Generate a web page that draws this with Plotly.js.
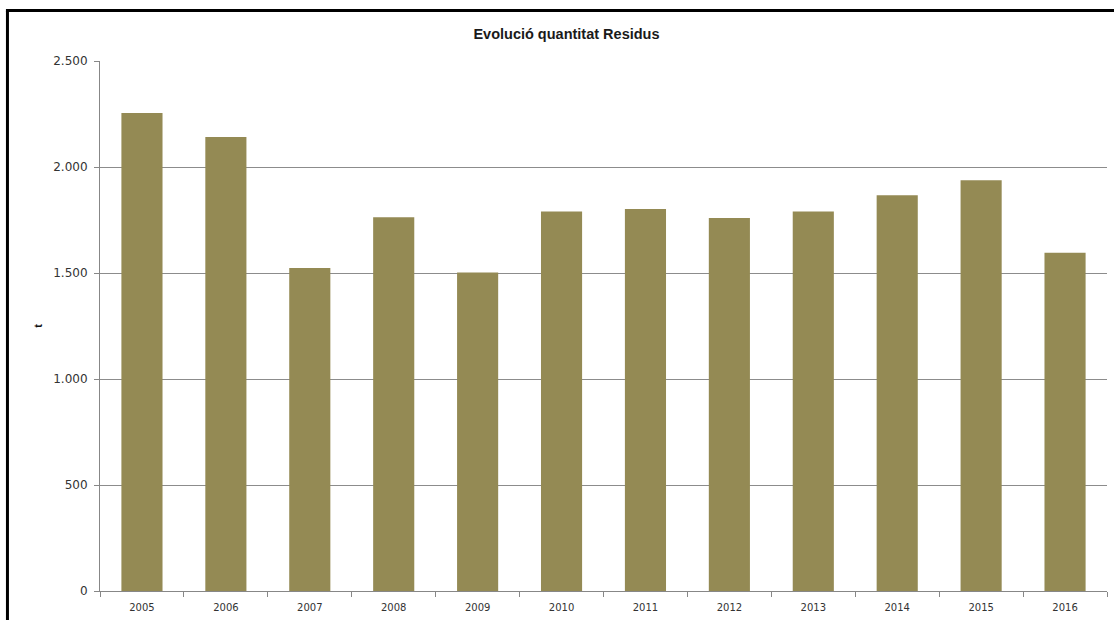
<!DOCTYPE html>
<html>
<head>
<meta charset="utf-8">
<script src="https://cdn.plot.ly/plotly-3.0.1.min.js"></script>
<style>html,body{margin:0;padding:0;background:#fff;}#chart{width:1114px;height:620px;}</style>
</head>
<body>
<div id="chart"></div>
<script>
const years = ["2005","2006","2007","2008","2009","2010","2011","2012","2013","2014","2015","2016"];
const tonnes = [2255, 2142, 1524, 1763, 1502, 1790, 1802, 1759, 1790, 1867, 1938, 1595];
const yTicks = [0, 500, 1000, 1500, 2000, 2500];

const trace = {
  type: "bar",
  x: years,
  y: tonnes,
  marker: {color: "#948A54"},
  hoverinfo: "x+y"
};

const axisGray = "#878787";
const layout = {
  width: 1114,
  height: 620,
  margin: {l: 100, r: 7, t: 61, b: 29},
  paper_bgcolor: "#ffffff",
  plot_bgcolor: "#ffffff",
  separators: ",.",
  bargap: 0.51,
  showlegend: false,
  title: {
    text: "<b>Evolució quantitat Residus</b>",
    font: {family: "Liberation Sans, Arial, sans-serif", size: 14.5, color: "#1a1a1a"},
    x: 0.5085, xref: "container", xanchor: "center",
    y: 1 - 34/620, yref: "container", yanchor: "middle"
  },
  xaxis: {
    type: "category",
    showgrid: false,
    showline: true,
    linecolor: axisGray,
    linewidth: 1,
    ticks: "outside",
    tickson: "boundaries",
    ticklen: 5,
    tickcolor: axisGray,
    ticklabelstandoff: 7,
    tickfont: {family: "DejaVu Sans, sans-serif", size: 10, color: "#333"},
    fixedrange: true
  },
  yaxis: {
    range: [0, 2500],
    tickvals: yTicks,
    tickformat: ",d",
    showgrid: true,
    gridcolor: "#8c8c8c",
    gridwidth: 1,
    showline: true,
    linecolor: axisGray,
    linewidth: 1,
    ticks: "outside",
    ticklen: 5,
    tickcolor: axisGray,
    ticklabelstandoff: 4,
    zeroline: false,
    tickfont: {family: "DejaVu Sans, sans-serif", size: 12, color: "#333"},
    title: {text: "<b>t</b>", font: {family: "Liberation Sans, Arial, sans-serif", size: 11, color: "#111"}, standoff: 8},
    fixedrange: true
  },
  shapes: [
    {type: "line", xref: "paper", yref: "paper", x0: -0.0919, x1: -0.0919, y0: -0.2, y1: 1.0953, line: {color: "#000", width: 3}},
    {type: "line", xref: "paper", yref: "paper", x0: -0.0934, x1: 1.1, y0: 1.0953, y1: 1.0953, line: {color: "#000", width: 3}}
  ]
};

Plotly.newPlot("chart", [trace], layout, {displayModeBar: false, staticPlot: true});
</script>
</body>
</html>
